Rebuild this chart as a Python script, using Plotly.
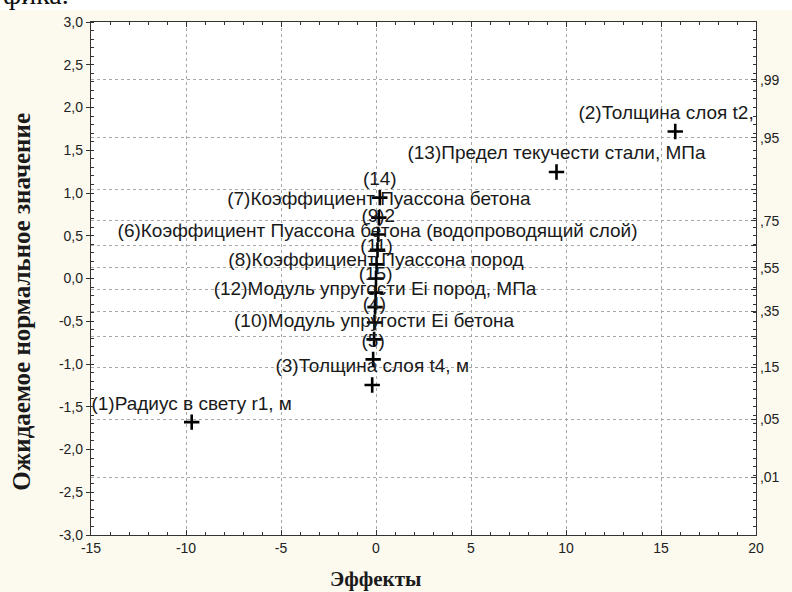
import plotly.graph_objects as go

# ---- data ----
effect_ids = [1, 2, 3, 4, 5, 6, 7, 8, 9, 10, 11, 12, 13, 14, 15]
effect_names = [
    "Радиус в свету r1, м",
    "Толщина слоя t2, м",
    "Толщина слоя t4, м",
    "",
    "",
    "Коэффициент Пуассона бетона (водопроводящий слой)",
    "Коэффициент Пуассона бетона",
    "Коэффициент Пуассона пород",
    "2",
    "Модуль упругости Ei бетона",
    "",
    "Модуль упругости Ei пород, МПа",
    "Предел текучести стали, МПа",
    "",
    "",
]
effects = [-9.7, 15.75, -0.2, -0.08, -0.15, 0.08, 0.15, 0.0, 0.12, -0.1, 0.03, -0.05, 9.5, 0.2, -0.02]
expected_normal = [-1.68, 1.72, -1.245, -0.515, -0.946, 0.335, 0.712, 0.0, 0.515, -0.712, 0.165,
                   -0.335, 1.245, 0.946, -0.165]

x_tick_vals = [-15, -10, -5, 0, 5, 10, 15, 20]
x_tick_text = ["-15", "-10", "-5", "0", "5", "10", "15", "20"]
y_tick_vals = [-3.0, -2.5, -2.0, -1.5, -1.0, -0.5, 0.0, 0.5, 1.0, 1.5, 2.0, 2.5, 3.0]
y_tick_text = ["-3,0", "-2,5", "-2,0", "-1,5", "-1,0", "-0,5", "0,0", "0,5", "1,0", "1,5", "2,0", "2,5", "3,0"]
# right axis: cumulative probability levels (positions are normal quantiles)
prob_tick_vals = [-2.326, -1.645, -1.036, -0.674, -0.385, -0.126, 0.126, 0.385, 0.674, 1.036, 1.645, 2.326]
prob_tick_text = [",01", ",05", ",15", "", ",35", "", ",55", "", ",75", "", ",95", ",99"]

labels = ["(%d)%s" % (i, n) for i, n in zip(effect_ids, effect_names)]

CREAM = "#FCF9EE"
LABEL_FONT = dict(family="Liberation Sans, Arial", size=19, color="#1a1a1a")
TICK_FONT = dict(family="Liberation Sans, Arial", size=14, color="#222222")
SERIF = "Liberation Serif, Times New Roman"

# plot-area geometry in pixels
L, R, T, B = 91, 30, 22, 57
PW, PH = 792 - L - R, 592 - T - B

fig = go.Figure()
fig.add_trace(go.Scatter(
    x=effects, y=expected_normal, mode="markers+text",
    text=labels, textposition="top center",
    textfont=LABEL_FONT, cliponaxis=True,
    marker=dict(symbol="cross-thin", size=11, color="black",
                line=dict(width=2.6, color="black")),
    showlegend=False, hoverinfo="x+y",
))
# invisible trace to activate right axis
fig.add_trace(go.Scatter(x=[effects[0]], y=[expected_normal[0]], yaxis="y2",
                         mode="markers", marker=dict(opacity=0), showlegend=False,
                         hoverinfo="skip"))

grid = dict(showgrid=True, gridcolor="#a8a8a8", griddash="dot", gridwidth=1)

fig.update_layout(
    width=792, height=592,
    margin=dict(l=L, r=R, t=T, b=B),
    paper_bgcolor=CREAM, plot_bgcolor="white",
    xaxis=dict(range=[-15, 20], tickvals=x_tick_vals, ticktext=x_tick_text,
               tickfont=TICK_FONT, ticks="inside", ticklen=5, tickcolor="#333",
               minor=dict(dtick=1, ticks="inside", ticklen=3, tickcolor="#333", showgrid=False),
               showline=True, linecolor="#333", linewidth=1.3, mirror="ticks",
               zeroline=False, **grid),
    yaxis=dict(range=[-3, 3], tickvals=y_tick_vals, ticktext=y_tick_text,
               tickfont=TICK_FONT, ticks="outside", ticklen=4, tickcolor="#333",
               minor=dict(dtick=0.1, ticks="inside", ticklen=3, tickcolor="#333", showgrid=False),
               showline=True, linecolor="#333", linewidth=1.3, mirror=True,
               zeroline=False, showgrid=False),
    yaxis2=dict(range=[-3, 3], overlaying="y", side="right",
                tickvals=prob_tick_vals, ticktext=prob_tick_text,
                tickfont=TICK_FONT, ticks="inside", ticklen=5, tickcolor="#333",
                minor=dict(dtick=0.1, ticks="inside", ticklen=3, tickcolor="#333", showgrid=False),
                showline=True, linecolor="#333", linewidth=1.3,
                zeroline=False, **grid),
    shapes=[dict(type="rect", xref="paper", yref="paper",
                 x0=-0.2, x1=1.2, y0=(592 - B - 10) / PH, y1=1.3,
                 fillcolor="white", line=dict(width=0), layer="below")],
    annotations=[
        dict(text="<b>Ожидаемое нормальное значение</b>", xref="paper", yref="paper",
             x=(20 - L) / PW, y=(592 - B - 302) / PH, textangle=-90, showarrow=False,
             xanchor="center", yanchor="middle",
             font=dict(family=SERIF, size=25, color="#1a1a1a")),
        dict(text="<b>Эффекты</b>", xref="paper", yref="paper",
             x=(378 - L) / PW, y=(592 - B - 579) / PH, showarrow=False,
             xanchor="center", yanchor="middle",
             font=dict(family=SERIF, size=21, color="#1a1a1a")),
        dict(text="фика.", xref="paper", yref="paper",
             x=-L / PW, y=(592 - B - 12) / PH, showarrow=False,
             xanchor="left", yanchor="bottom",
             font=dict(family=SERIF, size=28, color="#111")),
    ],
)

fig.write_html("out.html",
               config={"displayModeBar": False, "responsive": False},
               post_script="document.body.style.margin='0';document.body.style.overflow='hidden';")
